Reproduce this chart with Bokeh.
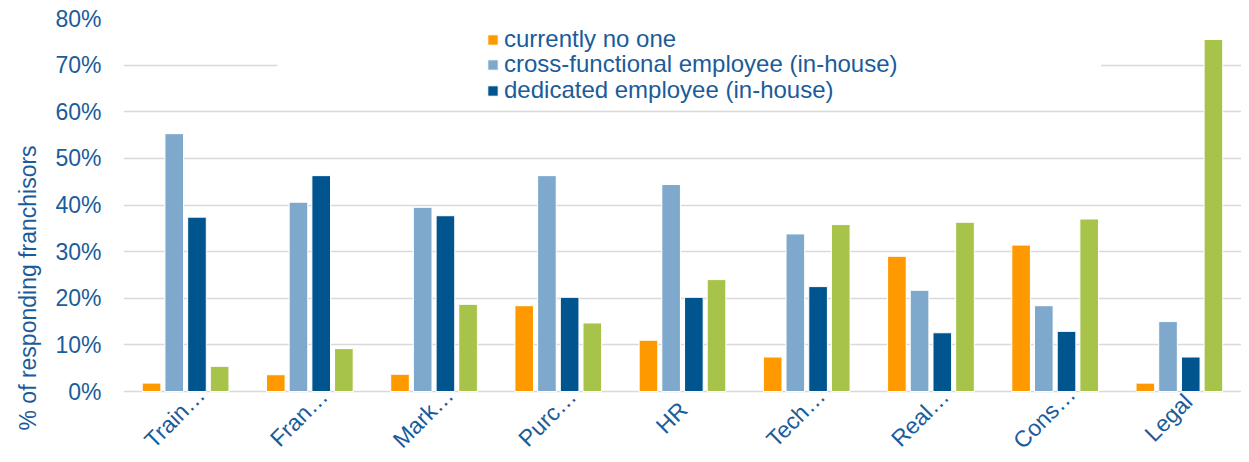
import math
from bokeh.plotting import figure
from bokeh.core.properties import value
from bokeh.models import (ColumnDataSource, FactorRange, Range1d, FixedTicker,
                          LabelSet, Title, BoxAnnotation, Legend, LegendItem)
from bokeh.transform import dodge
from bokeh.embed import file_html
from bokeh.resources import INLINE

# ---------------- data ----------------
categories = ["Train…", "Fran…", "Mark…", "Purc…", "HR", "Tech…", "Real…", "Cons…", "Legal"]
currently_no_one = [1.8, 3.6, 3.7, 18.4, 11.0, 7.4, 29.0, 31.4, 1.8]
cross_functional = [55.3, 40.6, 39.5, 46.3, 44.4, 33.8, 21.7, 18.4, 15.0]
dedicated = [37.4, 46.3, 37.7, 20.2, 20.2, 22.5, 12.6, 12.9, 7.4]
fourth_series = [5.4, 9.2, 18.7, 14.7, 24.0, 35.8, 36.3, 37.0, 75.5]
series_names = ["currently no one", "cross-functional employee (in-house)",
                "dedicated employee (in-house)"]
y_ticks = [0, 10, 20, 30, 40, 50, 60, 70, 80]
y_tick_labels = ["0%", "10%", "20%", "30%", "40%", "50%", "60%", "70%", "80%"]
y_title = "% of responding franchisors"

# ---------------- style ----------------
TEXT = "#1A5C9A"
FONT = "Liberation Sans"
colors = ["#FF9900", "#7FA9CC", "#00558F", "#A7C34A"]
offsets = [-0.274, -0.0915, 0.0915, 0.274]
BAR_W = 0.15
LEGEND_ROWS_Y = [401, 376, 350]   # screen offsets of the legend rows

source = ColumnDataSource(dict(cat=categories, s0=currently_no_one, s1=cross_functional,
                               s2=dedicated, s3=fourth_series, base=[0] * len(categories)))

# the frame reaches the canvas bottom so the slanted category labels stay inside it
p = figure(x_range=FactorRange(*categories), y_range=Range1d(-13.51, 80),
           width=1241, height=454, output_backend="svg", toolbar_location=None,
           min_border_left=121, min_border_right=0, min_border_top=18, min_border_bottom=0)
p.outline_line_color = None
p.background_fill_color = "white"

renderers = []
for i, key in enumerate(["s0", "s1", "s2", "s3"]):
    r = p.vbar(x=dodge("cat", offsets[i], range=p.x_range), top=key, width=BAR_W,
               source=source, fill_color=colors[i], line_color="white", line_width=1)
    renderers.append(r)

# axes
p.xaxis.visible = False
p.xgrid.visible = False
p.yaxis.ticker = FixedTicker(ticks=y_ticks)
p.yaxis.major_label_overrides = {t: l for t, l in zip(y_ticks, y_tick_labels)}
p.yaxis.axis_line_color = None
p.yaxis.major_tick_line_color = None
p.yaxis.minor_tick_line_color = None
p.yaxis.major_tick_out = 0
p.yaxis.major_label_standoff = 22
p.yaxis.major_label_text_font = FONT
p.yaxis.major_label_text_font_size = "23px"
p.yaxis.major_label_text_color = TEXT
p.ygrid.grid_line_color = "#D9D9D9"
p.ygrid.grid_line_width = 1.5

# y title on the left side
p.add_layout(Title(text=y_title, align="left", offset=24, standoff=24,
                   text_font=FONT, text_font_size="23px", text_font_style="normal",
                   text_color=TEXT), "left")

# white legend backdrop hiding gridline
p.add_layout(BoxAnnotation(left=1.238, right=7.87, bottom=62, top=78,
                           fill_color="white", fill_alpha=1.0, line_color=None))

# category labels
labels = LabelSet(x="cat", y="base", text="cat", source=source, angle=math.pi / 4,
                  x_offset=-11, y_offset=-26, text_align="center", text_baseline="middle",
                  text_font=value(FONT), text_font_size=value("23px"), text_color=value(TEXT))
p.add_layout(labels)

for i in range(3):
    legend = Legend(items=[LegendItem(label=series_names[i], renderers=[renderers[i]])],
                    location=(363, LEGEND_ROWS_Y[i]), label_text_font=FONT,
                    label_text_font_size="24px", label_text_color=TEXT,
                    glyph_width=13, glyph_height=13, label_standoff=5,
                    spacing=0, padding=0, margin=0, border_line_color=None,
                    background_fill_alpha=0)
    p.add_layout(legend)

open("out.html", "w").write(file_html(p, INLINE))
